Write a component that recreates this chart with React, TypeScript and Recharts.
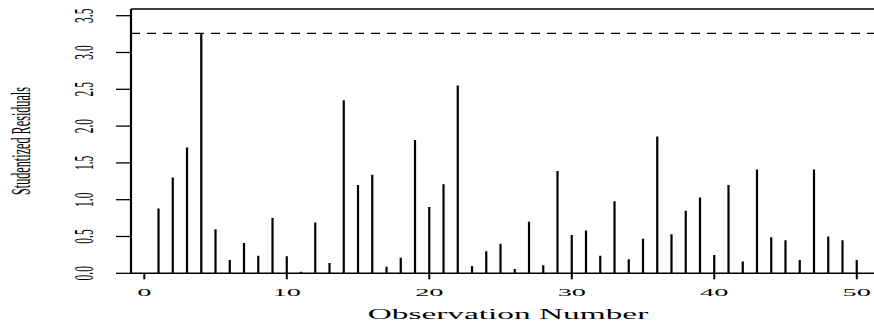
import React from 'react'
import { Bar, ComposedChart, ReferenceLine, XAxis, YAxis } from 'recharts'

const observations = [
  1, 2, 3, 4, 5, 6, 7, 8, 9, 10, 11, 12, 13, 14, 15, 16, 17, 18, 19, 20, 21, 22, 23, 24, 25,
  26, 27, 28, 29, 30, 31, 32, 33, 34, 35, 36, 37, 38, 39, 40, 41, 42, 43, 44, 45, 46, 47, 48, 49, 50
]
const residuals = [
  0.88, 1.3, 1.71, 3.26, 0.6, 0.18, 0.41, 0.24, 0.75, 0.23, 0.02, 0.69, 0.14, 2.35, 1.2, 1.34,
  0.09, 0.21, 1.81, 0.9, 1.21, 2.55, 0.1, 0.3, 0.4, 0.06, 0.7, 0.11, 1.39, 0.52, 0.58, 0.24,
  0.98, 0.19, 0.47, 1.86, 0.53, 0.85, 1.03, 0.25, 1.2, 0.16, 1.41, 0.49, 0.45, 0.18, 1.41,
  0.5, 0.45, 0.18
]
const xTicks = [0, 10, 20, 30, 40, 50]
const yTicks = [0, 0.5, 1, 1.5, 2, 2.5, 3, 3.5]
const cutoff = 3.26

const data = observations.map((obs, i) => ({ obs, r: residuals[i] }))

const font = 'Liberation Serif, Times New Roman, serif'

function XTick({ x, payload }: any) {
  return (
    <text
      transform={`translate(${x},295.5) scale(2.7,1)`}
      textAnchor='middle'
      fontFamily={font}
      fontSize={10.5}
      fill='#000'
    >
      {payload.value}
    </text>
  )
}

function YTick({ y, payload }: any) {
  return (
    <text
      transform={`translate(93,${y}) rotate(-90) scale(1,2.3)`}
      textAnchor='middle'
      fontFamily={font}
      fontSize={11.5}
      fill='#000'
    >
      {Number(payload.value).toFixed(1)}
    </text>
  )
}

export default function App() {
  return (
    <div style={{ position: 'absolute', left: 0, top: 0, width: 874, height: 325, overflow: 'hidden', background: '#fff' }}>
      <ComposedChart width={880} height={325} data={data} margin={{ top: 9, right: 2, left: 0, bottom: 0 }}>
        <XAxis
          dataKey='obs'
          type='number'
          domain={[-0.933, 51.49]}
          allowDataOverflow
          ticks={xTicks}
          height={51.7}
          tickSize={6}
          tick={<XTick />}
          axisLine={{ stroke: '#000', strokeWidth: 1.5 }}
          tickLine={{ stroke: '#000', strokeWidth: 2 }}
        />
        <YAxis
          type='number'
          domain={[0, 3.591]}
          allowDataOverflow
          ticks={yTicks}
          width={131}
          tickSize={15}
          tick={<YTick />}
          axisLine={{ stroke: '#000', strokeWidth: 2.2 }}
          tickLine={{ stroke: '#000', strokeWidth: 1.3 }}
        />
        <ReferenceLine y={3.591} stroke='#000' strokeWidth={1.5} ifOverflow='visible' />
        <ReferenceLine y={cutoff} stroke='#000' strokeWidth={1.3} strokeDasharray='9 7' />
        <Bar dataKey='r' fill='#000' barSize={2.2} isAnimationActive={false} />
      </ComposedChart>
      <svg width={874} height={325} style={{ position: 'absolute', left: 0, top: 0, pointerEvents: 'none' }}>
        <text
          transform='translate(508,319) scale(2.3,1)'
          textAnchor='middle'
          fontFamily={font}
          fontSize={14.5}
          fill='#000'
        >
          Observation Number
        </text>
        <text
          transform='translate(30,141) rotate(-90) scale(1,2.2)'
          textAnchor='middle'
          fontFamily={font}
          fontSize={12.2}
          fill='#000'
        >
          Studentized Residuals
        </text>
      </svg>
    </div>
  )
}
